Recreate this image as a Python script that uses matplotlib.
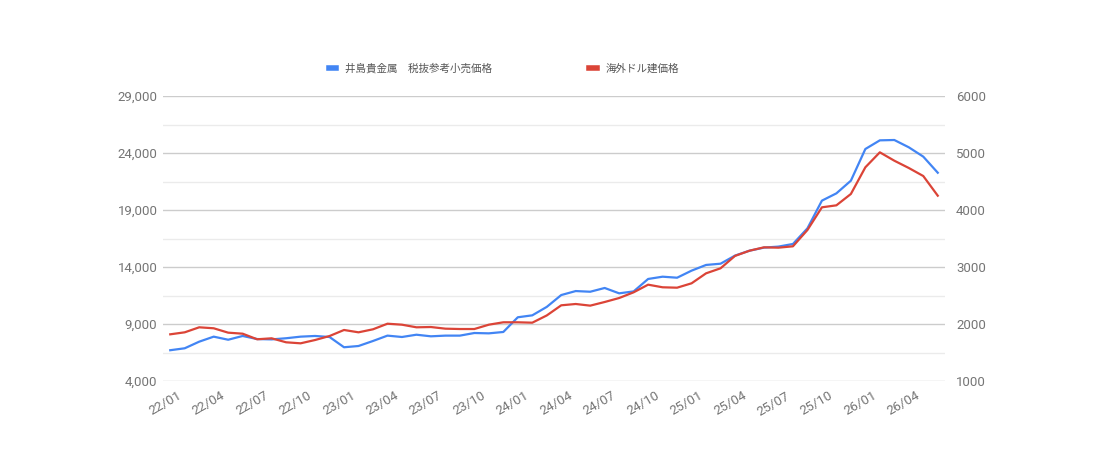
import matplotlib
matplotlib.use("Agg")
from matplotlib import pyplot as plt
import matplotlib.transforms as mtransforms
from matplotlib.ticker import FuncFormatter

plt.rcParams['font.family'] = ['Roboto', 'Noto Sans CJK JP', 'DejaVu Sans']

# 月 (22/01 ~ 26/06)
months = ["%02d/%02d" % (y, m) for y in range(22, 27) for m in range(1, 13)][:54]

# 井島貴金属 税抜参考小売価格 (左軸)
retail = [6700, 6870, 7450, 7890, 7620, 7950, 7680, 7650, 7750, 7890,
          7950, 7860, 6960, 7070, 7510, 7980, 7860, 8060, 7920, 7980,
          7980, 8210, 8180, 8300, 9590, 9760, 10500, 11540, 11890, 11830,
          12160, 11690, 11860, 12950, 13150, 13060, 13680, 14180, 14290, 15000,
          15430, 15700, 15790, 16020, 17390, 19820, 20460, 21570, 24350, 25110,
          25140, 24500, 23680, 22270]

# 海外ドル建価格 (右軸)
usd = [1819, 1854, 1942, 1925, 1848, 1830, 1732, 1749, 1679, 1661,
       1719, 1789, 1895, 1854, 1907, 2005, 1988, 1942, 1947, 1918,
       1912, 1912, 1988, 2030, 2030, 2023, 2150, 2328, 2351, 2322,
       2386, 2456, 2556, 2690, 2644, 2637, 2714, 2889, 2977, 3195,
       3286, 3345, 3339, 3363, 3649, 4047, 4082, 4281, 4749, 5012,
       4865, 4737, 4596, 4251]

left_ticks = [4000, 9000, 14000, 19000, 24000, 29000]
left_minor = [6500, 11500, 16500, 21500, 26500]
right_ticks = [1000, 2000, 3000, 4000, 5000, 6000]

label_retail = "井島貴金属　税抜参考小売価格"
label_usd = "海外ドル建価格"

tick_color = "#757575"

fig = plt.figure(figsize=(11, 4.7), dpi=100)
ax = fig.add_axes([163/1100, 1-381/470, (945-163)/1100, (381-96)/470])
ax2 = ax.twinx()

x = list(range(len(months)))
l1, = ax.plot(x, retail, color="#4285F4", lw=1.6, zorder=3)
l2, = ax2.plot(x, usd, color="#DB4437", lw=1.6, zorder=3)

ax.set_xlim(-0.5, len(months) - 0.5)
ax.set_ylim(left_ticks[0], left_ticks[-1])
ax2.set_ylim(right_ticks[0], right_ticks[-1])

ax.set_yticks(left_ticks)
ax.set_yticks(left_minor, minor=True)
ax.yaxis.set_major_formatter(FuncFormatter(lambda v, p: "{:,.0f}".format(v)))
ax2.set_yticks(right_ticks)
ax2.yaxis.set_major_formatter(FuncFormatter(lambda v, p: "%d" % v))

ax.grid(axis='y', which='major', color="#cccccc", lw=1)
ax.grid(axis='y', which='minor', color="#ebebeb", lw=1)
ax.set_axisbelow(True)

for a in (ax, ax2):
    for s in a.spines.values():
        s.set_visible(False)
    a.tick_params(axis='both', which='both', length=0, labelsize=9.5, labelcolor=tick_color)
ax.tick_params(axis='y', pad=4)
ax2.tick_params(axis='y', pad=8)

ax.set_xticks(x[::3])
ax.set_xticklabels(months[::3], rotation=30, ha='center')
ax.tick_params(axis='x', pad=6)
offset = mtransforms.ScaledTranslation(-5/100, 0, fig.dpi_scale_trans)
for lab in ax.get_xticklabels():
    lab.set_transform(lab.get_transform() + offset)

fig.legend([l1, l2], [label_retail, label_usd], loc='center left',
           bbox_to_anchor=(319/1100, 1-68/470), ncol=2, frameon=False,
           fontsize=7.6, handlelength=0.75, handletextpad=0.8, columnspacing=9.2,
           labelcolor="#555555")
for h in fig.legends[0].legend_handles:
    h.set_linewidth(4)

fig.savefig("out.png", dpi=100)
